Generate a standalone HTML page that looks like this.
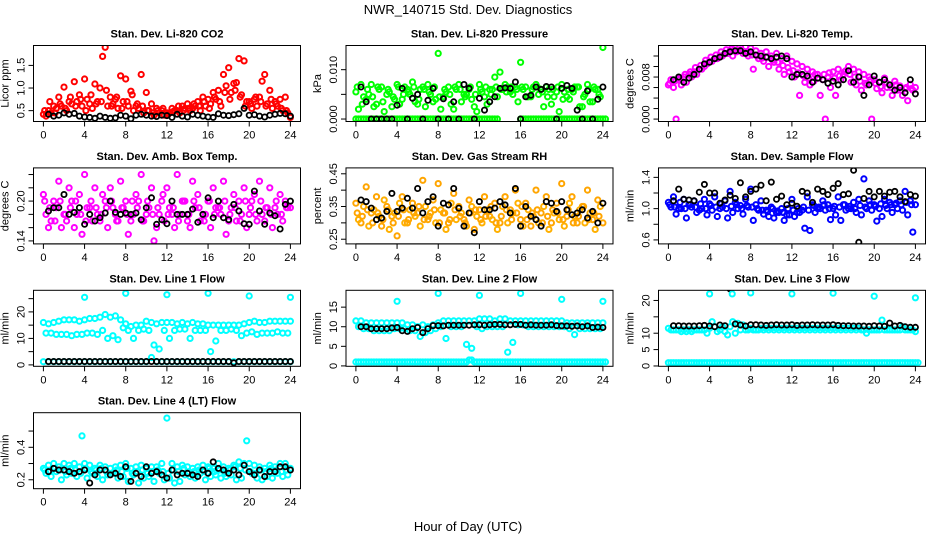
<!DOCTYPE html>
<html><head><meta charset="utf-8"><style>
html,body{margin:0;padding:0;background:#fff;}
svg{display:block;font-family:"Liberation Sans",sans-serif;}
</style></head><body>
<svg id="chart" width="936" height="540" viewBox="0 0 936 540" xmlns="http://www.w3.org/2000/svg">
<rect x="0" y="0" width="936" height="540" fill="#fff"/>
<text x="468" y="14" text-anchor="middle" font-size="13">NWR_140715  Std. Dev. Diagnostics</text>
<text x="468" y="531" text-anchor="middle" font-size="13">Hour of Day (UTC)</text>
</svg>
<script>
const xTicks=[0,4,8,12,16,20,24];
// CO2
const co2A=[0.42,0.5,0.6,0.8,1.02,0.7,1.14,0.85,1.2,0.65,1.09,1.0,1.9,0.8,0.75,1.27,1.2,0.93,0.6,1.3,0.9,0.65,0.55,0.5,0.45,0.55,0.5,0.6,0.65,0.55,0.7,0.8,0.75,0.9,0.95,1.3,1.45,1.1,1.65,1.6,0.7,0.75,0.8,1.3,0.95,0.7,0.75,0.8,0.35];
const co2B=[0.38,0.45,0.55,0.6,0.5,0.65,0.7,0.6,0.75,0.55,0.7,1.7,0.6,0.65,0.55,0.7,0.6,0.5,0.55,0.45,0.5,0.4,0.45,0.4,0.45,0.5,0.45,0.55,0.5,0.6,0.5,0.6,0.65,0.75,0.6,1.05,0.9,1.12,0.85,0.7,0.55,0.6,1.15,0.65,0.55,0.6,0.5,0.45];
const co2C=[0.5,0.7,0.45,0.65,0.55,0.8,0.6,0.75,0.5,0.85,0.65,0.7,0.95,0.6,0.8,0.55,0.7,0.85,0.65,0.6,0.5,0.45,0.5,0.55,0.42,0.48,0.6,0.5,0.55,0.65,0.6,0.7,0.55,0.8,0.7,0.9,0.75,0.95,0.8,0.6,0.65,0.8,0.7,0.6,0.75,0.65,0.55,0.5];
const co2K=[0.42,0.38,0.4,0.45,0.42,0.44,0.38,0.36,0.35,0.33,0.38,0.35,0.33,0.34,0.4,0.38,0.32,0.4,0.42,0.4,0.38,0.37,0.4,0.39,0.35,0.42,0.38,0.36,0.42,0.4,0.38,0.36,0.35,0.43,0.4,0.39,0.41,0.43,0.55,0.4,0.41,0.38,0.36,0.4,0.42,0.44,0.43,0.38];
// Pressure
const presA=[0.0055,0.007,0.004,0.007,0.003,0.0065,0.005,0.0025,0.007,0.004,0.006,0.0075,0.003,0.0065,0.007,0.0035,0.0133,0.0045,0.0065,0.002,0.007,0.005,0.006,0.0025,0.007,0.0045,0.006,0.0085,0.0095,0.007,0.0055,0.0065,0.0115,0.0065,0.0045,0.007,0.006,0.0065,0.003,0.0055,0.007,0.0045,0.006,0.0065,0.0025,0.007,0.0035,0.006,0.0145];
const presB=[0.002,0.0045,0.005,0.0025,0.006,0.0015,0.0055,0.004,0.003,0.0065,0.005,0.0035,0.006,0.0025,0.005,0.004,0.002,0.0055,0.003,0.006,0.0035,0.005,0.004,0.0015,0.0055,0.003,0.006,0.0045,0.006,0.0065,0.005,0.0035,0.006,0.0045,0.0065,0.005,0.0025,0.006,0.0045,0.0015,0.0055,0.004,0.0065,0.0025,0.005,0.0035,0.006,0.0045];
const presC=[0.0065,0.003,0.006,0.0045,0.0065,0.0035,0.006,0.0045,0.0065,0.005,0.0055,0.0065,0.004,0.006,0.0055,0.0065,0.0045,0.006,0.005,0.0065,0.006,0.0045,0.0065,0.005,0.006,0.0065,0.005,0.0065,0.006,0.0055,0.0065,0.006,0.0065,0.0045,0.006,0.0065,0.0055,0.0045,0.006,0.0065,0.004,0.006,0.0055,0.0065,0.0045,0.006,0.0065,0.005];
const presZ=[0,0,0,0,0,0,0,0,0,0,0,0,0,0,0,0,0,0,0,0,0,0,0,0,0,0,0,0,null,null,null,null,0,0,0,0,0,0,0,0,0,0,0,0,0,0,0,0,0];
const presK=[0.0065,0.0035,0,0,0,0,0,0.0028,0.0062,0,0.0042,0.005,0,0.0038,0.0062,0,0.0041,0,0.0035,0,0.007,0.0062,0,0.0042,0.0018,0.0035,0.0045,0.0062,0.0063,0.0062,0.0075,0,0.0045,0.0048,0.0065,0.006,0.0066,0.0065,0,0.0062,0.0068,0.0062,0.0018,0,0.0057,0,0.004,0.0065];
// Temp
const tempA=[0.0065,0.006,0.0075,0.008,0.0085,0.009,0.0095,0.01,0.011,0.0115,0.012,0.0125,0.013,0.0135,0.0132,0.0138,0.0135,0.013,0.0125,0.0128,0.012,0.0125,0.0115,0.012,0.011,0.0105,0.01,0.0095,0.009,0.0085,0.0075,0.008,0.009,0.0095,0.0085,0.01,0.0095,0.009,0.0085,0.008,0.0075,0.007,0.0078,0.0065,0.0072,0.0063,0.0058,0.0066,0.006];
const tempB=[0.0075,0,0.0065,0.007,0.008,0.0085,0.0095,0.0105,0.011,0.0115,0.012,0.0125,0.012,0.013,0.0125,0.012,0.0095,0.0115,0.011,0.01,0.0108,0.0095,0.0085,0.009,0.008,0.0045,0.007,0.0065,0.0085,0.0045,0,0.006,0.0045,0.0075,0.0092,0.007,0.0065,0.0055,0.0065,0,0.0058,0.005,0.006,0.0045,0.0055,0.0045,0.0035,0.0055];
const tempC=[0.0068,0.0072,0.0078,0.0085,0.009,0.0098,0.0102,0.0112,0.0118,0.0122,0.0128,0.0132,0.0134,0.0128,0.0131,0.0126,0.0122,0.012,0.0116,0.0118,0.0112,0.0108,0.0102,0.0098,0.0092,0.0088,0.0082,0.0078,0.0072,0.0078,0.0085,0.0088,0.0078,0.0082,0.009,0.0085,0.008,0.0072,0.0068,0.0075,0.0068,0.0062,0.007,0.006,0.0065,0.0055,0.006,0.0058];
const tempK=[0.0075,0.008,0.007,0.0078,0.0085,0.0095,0.0105,0.0108,0.0115,0.0118,0.0125,0.0128,0.013,0.013,0.0125,0.0128,0.0122,0.012,0.0118,0.0115,0.0118,0.012,0.0115,0.008,0.0085,0.0085,0.0082,0.007,0.0078,0.0075,0.0068,0.0072,0.0065,0.0075,0.0092,0.007,0.008,0.0045,0.0065,0.0082,0.007,0.0075,0.0065,0.0055,0.006,0.005,0.0075,0.0048];
// Box temp
const boxA=[0.21,0.16,0.2,0.23,0.18,0.22,0.16,0.21,0.24,0.19,0.22,0.17,0.2,0.22,0.18,0.23,0.2,0.17,0.21,0.24,0.18,0.22,0.16,0.2,0.22,0.18,0.24,0.2,0.17,0.23,0.21,0.18,0.2,0.22,0.19,0.23,0.17,0.21,0.2,0.22,0.18,0.21,0.23,0.17,0.22,0.19,0.21,0.2,0.19];
const boxB=[0.18,0.17,0.19,0.16,0.17,0.2,0.18,0.15,0.19,0.17,0.18,0.21,0.16,0.19,0.17,0.19,0.15,0.18,0.2,0.17,0.19,0.14,0.18,0.17,0.19,0.16,0.18,0.2,0.16,0.19,0.17,0.18,0.16,0.19,0.18,0.15,0.19,0.17,0.18,0.16,0.2,0.17,0.18,0.19,0.16,0.18,0.17,0.19];
const boxC=[0.2,0.19,0.17,0.2,0.18,0.19,0.2,0.18,0.17,0.2,0.19,0.18,0.19,0.2,0.17,0.19,0.18,0.2,0.19,0.17,0.2,0.18,0.19,0.21,0.18,0.19,0.17,0.2,0.18,0.2,0.19,0.17,0.2,0.18,0.19,0.2,0.18,0.19,0.17,0.2,0.19,0.18,0.2,0.19,0.18,0.2,0.18,0.19];
const boxK=[0.185,0.19,0.19,0.21,0.18,0.183,0.19,0.165,0.18,0.17,0.175,0.182,0.2,0.183,0.18,0.182,0.18,0.182,0.172,0.19,0.205,0.165,0.172,0.166,0.2,0.18,0.18,0.18,0.188,0.168,0.18,0.205,0.175,0.2,0.175,0.172,0.195,0.185,0.166,0.165,0.215,0.185,0.165,0.182,0.178,0.158,0.195,0.2];
// RH
const rhA=[0.36,0.3,0.41,0.33,0.38,0.29,0.35,0.32,0.26,0.38,0.3,0.36,0.33,0.43,0.31,0.37,0.42,0.33,0.3,0.39,0.35,0.31,0.37,0.28,0.34,0.38,0.32,0.36,0.3,0.38,0.34,0.4,0.31,0.36,0.29,0.4,0.33,0.38,0.3,0.36,0.42,0.32,0.38,0.3,0.35,0.4,0.31,0.37,0.3];
const rhB=[0.31,0.35,0.29,0.34,0.32,0.37,0.28,0.33,0.36,0.3,0.34,0.32,0.29,0.35,0.33,0.3,0.34,0.28,0.36,0.31,0.33,0.29,0.35,0.32,0.3,0.34,0.31,0.28,0.35,0.3,0.33,0.36,0.29,0.34,0.32,0.3,0.35,0.28,0.33,0.31,0.29,0.36,0.32,0.34,0.3,0.33,0.28,0.35];
const rhC=[0.33,0.32,0.34,0.3,0.33,0.31,0.34,0.3,0.32,0.34,0.31,0.33,0.35,0.31,0.32,0.34,0.3,0.33,0.31,0.34,0.32,0.3,0.33,0.34,0.31,0.32,0.35,0.3,0.32,0.34,0.31,0.33,0.35,0.31,0.33,0.34,0.3,0.32,0.34,0.33,0.31,0.34,0.3,0.32,0.35,0.31,0.33,0.32];
const rhK=[0.37,0.365,0.345,0.31,0.315,0.335,0.39,0.335,0.345,0.375,0.345,0.405,0.33,0.365,0.38,0.29,0.36,0.355,0.405,0.345,0.29,0.33,0.27,0.365,0.34,0.34,0.345,0.365,0.355,0.33,0.405,0.29,0.35,0.32,0.31,0.29,0.365,0.36,0.335,0.365,0.34,0.325,0.33,0.34,0.315,0.335,0.3,0.36];
// Sample flow
const flowA=[1.08,1.15,1.0,1.12,1.05,1.1,0.98,1.12,1.06,1.15,1.0,1.1,1.22,1.08,1.04,1.12,1.25,1.05,1.1,0.98,1.02,0.95,1.0,0.92,1.12,0.95,0.98,1.15,1.05,1.0,1.1,1.05,1.0,1.15,1.05,1.0,1.08,1.12,1.38,1.1,1.05,1.0,1.12,1.08,1.05,1.1,1.22,1.1,1.05];
const flowB=[1.02,0.93,1.0,0.88,1.02,0.95,1.0,0.92,0.98,0.9,1.02,0.88,0.95,1.0,0.93,1.02,0.85,0.98,0.93,0.9,0.88,0.95,0.85,0.92,0.9,0.95,0.75,0.72,0.95,1.0,0.98,0.86,0.92,0.85,0.98,1.0,0.95,0.92,1.0,0.98,0.84,0.9,1.0,0.95,1.0,0.98,0.92,0.7];
const flowC=[1.05,1.02,1.08,1.0,1.05,1.02,1.06,1.0,1.04,1.02,1.06,1.0,1.03,1.05,1.0,1.04,1.02,1.0,0.98,0.96,1.0,0.97,0.95,1.0,0.98,1.0,1.02,0.98,1.04,1.02,1.05,1.0,1.03,1.02,1.05,1.03,1.0,1.04,1.02,1.05,1.03,1.06,1.04,1.05,1.07,1.05,1.08,1.05];
const flowK=[1.1,1.25,1.12,1.11,1.1,1.21,1.31,1.2,1.2,1.07,1.11,1.17,1.13,1.33,1.15,1.22,1.25,1.3,1.1,1.34,1.12,1.16,1.05,1.07,1.03,1.22,1.2,1.08,1.25,1.22,1.18,1.26,1.32,1.18,1.19,1.49,0.57,1.13,1.22,1.15,1.22,1.16,1.21,1.22,1.15,1.09,1.18,1.16];
// Line 1
const l1U=[16,15.5,16,16.5,17,17,17,16.5,17,17.5,17.5,18,19,18,18.5,17,15.5,14.5,15,15,16.5,16,15.5,16,16,16,15.5,16,15.5,16,15.5,15.5,15,15,15,15,15,15,15,15.5,16,16.5,16,16,16.5,16.5,16.5,16.5,16.5];
const l1L=[12,12,11.5,11.5,11.5,11,11.5,11.5,12,12,11.5,13,10,11,9.5,14,13,10,13,13.5,13,7.5,6,13,10,13,13.5,13.5,10,13,13,13,5,9,13,13,13.5,13,11,12,12.5,11.5,12,12,12,12.5,12,12];
const l1Z=[1.2,1.2,1.2,1.2,1.2,1.2,1.2,1.2,1.2,1.2,1.2,1.2,1.2,1.2,1.2,1.2,1.2,1.2,1.2,1.2,1.2,2.8,1.2,1.2,1.2,1.2,1.2,1.2,1.2,1.2,1.2,1.2,1.2,1.2,1.2,1.2,1.2,1.2,1.2,1.2,1.2,1.2,1.2,1.2,1.2,1.2,1.2,1.2,1.2];
const l1K=[1.3,1.3,1.3,1.3,1.3,1.3,1.3,1.3,1.3,1.3,1.3,1.3,1.3,1.3,1.3,1.3,1.3,1.3,1.3,1.3,1.3,1.3,1.3,1.3,1.3,1.3,1.3,1.3,1.3,1.3,1.3,1.3,1.3,1.3,1.3,1.3,0.8,1.3,1.3,1.3,1.3,1.3,1.3,1.3,1.3,1.3,1.3,1.3];
const l1OutH=[4,8,12,16,20,24];
const l1OutV=[25.5,27,26.5,27,26,25.5];
// Line 2
const l2U=[11.5,11.5,11,11,11,11,11,11,11,11,10.5,10.5,10,10.5,10,10.5,11,11.5,11.5,11.5,11.5,11.5,11.5,11.5,12,12,12,11.5,12,12,11.5,11.5,11.5,11.5,11.5,11.5,11.5,11.5,11.5,11.5,11.5,11,11,11,11,11,11,11,11];
const l2L=[10,9.5,9.5,9,9,9,9,9.5,9.5,9.5,9,9,7.5,8.5,9,9.5,10,7,10,10,10,5.5,4.5,10,9.5,10,10,10,10,3.5,6,10.5,10.5,10,10,10,10,10,10,10,10,9.5,8,9.5,9.5,9.5,9.5,9.5];
const l2Z=[1,1,1,1,1,1,1,1,1,1,1,1,1,1,1,1,1,1,1,1,1,1,1.5,1,1,1,1,1,1,1,1,1,1,1,1,1,1,1,1,1,1,1,1,1,1,1,1,1,1];
const l2K=[10,10,9.5,9.5,9.5,9.5,9.7,9.8,9,8.8,9.5,9.8,8.5,9.5,10.3,10.3,10.2,10.4,10.4,10.4,10.4,10.4,10.5,10.5,10.4,10.5,10.6,10.6,10.5,10.5,10.6,10.6,10.4,10.5,10.4,10.4,10.4,10.5,10.3,10.2,10.2,10.1,10.2,10,10.2,9.8,9.9,9.8];
const l2OutH=[4,8,12,16,20,24];
const l2OutV=[16.5,18.5,18,18.5,17,16.5];
// Line 3
const l3A=[11.5,11,11,11,11,11,11,11,11.5,12,11,10.5,12,10,11,11,11.5,11,11.5,11.5,11.5,11.5,11.5,11.5,11.5,11.5,11.5,11.5,11.5,11.5,11.5,11.5,11.5,11.5,11.5,11.5,11.5,11.5,11,11,11,11,11,11,11,11,11,11,10.5];
const l3B=[11,11,10.5,10.5,10.5,11,11,10,13.5,10.5,12,9.5,13.5,13,12.5,11,11,11,11,11,11,11,11,11,11,11,11,11,11,11,11,11,11,11,11,11,11,11,10,11,11,14,11,11,11,12,11,11];
const l3Z=[1,1,1,1,1,1,1,1,1,1,1,1,1,1,1,1,1,1,1,1,1,1,1,1,1,1,1,1,1,1,1,1,1,1,1,1,1,1,1,1,1,1,1,1,1,1,1,1,1];
const l3K=[12.3,12.3,12.2,12.2,12.2,12.3,12.4,12.2,12,12.5,12.3,23.5,12.8,12.5,12.2,12.6,12.6,12.5,12.4,12.5,12.6,12.5,12.5,12.6,12.4,12.5,12.5,12.6,12.5,12.5,12.5,12.6,12.4,12.3,12.3,12.2,12.2,12.2,12.1,12.3,12.2,12.1,13.1,12.2,12.4,12,11.8,11.8];
const l3OutH=[4,6.2,8,12,16,20,24];
const l3OutV=[22,22,22.3,22,22.2,21.3,20.8];
// Line 4
const l4A=[0.27,0.29,0.3,0.28,0.3,0.29,0.3,0.28,0.3,0.29,0.27,0.29,0.28,0.27,0.28,0.29,0.3,0.27,0.28,0.29,0.27,0.28,0.28,0.3,0.58,0.3,0.28,0.29,0.28,0.27,0.28,0.29,0.28,0.27,0.3,0.28,0.27,0.29,0.31,0.3,0.3,0.29,0.28,0.27,0.29,0.28,0.3,0.3,0.27];
const l4B=[0.24,0.22,0.25,0.2,0.23,0.24,0.22,0.47,0.21,0.24,0.22,0.2,0.23,0.24,0.21,0.22,0.19,0.23,0.18,0.21,0.22,0.19,0.24,0.2,0.21,0.18,0.19,0.23,0.22,0.21,0.24,0.2,0.22,0.23,0.21,0.22,0.23,0.2,0.21,0.44,0.24,0.21,0.2,0.22,0.21,0.24,0.22,0.23];
const l4C=[0.26,0.25,0.27,0.26,0.25,0.27,0.26,0.24,0.27,0.25,0.26,0.27,0.25,0.24,0.26,0.25,0.27,0.24,0.25,0.26,0.24,0.25,0.26,0.25,0.24,0.26,0.25,0.27,0.24,0.25,0.26,0.25,0.27,0.25,0.26,0.24,0.26,0.28,0.27,0.26,0.25,0.24,0.26,0.25,0.27,0.26,0.25,0.26];
const l4K=[0.25,0.27,0.26,0.26,0.25,0.24,0.25,0.26,0.18,0.23,0.26,0.26,0.23,0.24,0.22,0.28,0.19,0.24,0.22,0.28,0.24,0.25,0.23,0.21,0.26,0.23,0.24,0.24,0.23,0.22,0.26,0.24,0.31,0.27,0.26,0.24,0.26,0.23,0.29,0.25,0.23,0.26,0.22,0.25,0.25,0.28,0.28,0.26];

const NS='http://www.w3.org/2000/svg';
const svg=document.getElementById('chart');
function mk(tag,attrs,parent){const e=document.createElementNS(NS,tag);for(const k in attrs)e.setAttribute(k,attrs[k]);(parent||svg).appendChild(e);return e;}

// series kinds: 'A' h=i*0.5, 'B' h=i*0.5+0.25, 'C' h=i*0.5+0.125, 'K' h=(i+1)*0.5
const panels=[
 {name:'co2',title:'Stan. Dev. Li-820 CO2',yl:'Licor ppm',lim:[0.26,1.94],ticks:[0.5,1.0,1.5],labels:['0.5','1.0','1.5'],
  series:[[co2A,'A','#ff0000'],[co2B,'B','#ff0000'],[co2C,'C','#ff0000'],[co2K,'K','#000']]},
 {name:'pressure',title:'Stan. Dev. Li-820 Pressure',yl:'kPa',lim:[-0.0005,0.0149],ticks:[0,0.005,0.01],labels:['0.000','','0.010'],
  series:[[presZ,'A','#00ff00'],[presZ,'B','#00ff00'],[presA,'A','#00ff00'],[presB,'B','#00ff00'],[presC,'C','#00ff00'],[presK,'K','#000']]},
 {name:'temp',title:'Stan. Dev. Li-820 Temp.',yl:'degrees C',lim:[-0.00046,0.014],ticks:[0,0.002,0.004,0.006,0.008,0.01,0.012],labels:['0.000','','','','0.008','',''],
  series:[[tempA,'A','#ff00ff'],[tempB,'B','#ff00ff'],[tempC,'C','#ff00ff'],[tempK,'K','#000']]},
 {name:'box-temp',title:'Stan. Dev. Amb. Box Temp.',yl:'degrees C',lim:[0.1355,0.25],ticks:[0.14,0.16,0.18,0.2,0.22,0.24],labels:['0.14','','','0.20','',''],
  series:[[boxA,'A','#ff00ff'],[boxB,'B','#ff00ff'],[boxC,'C','#ff00ff'],[boxK,'K','#000']]},
 {name:'rh',title:'Stan. Dev. Gas Stream RH',yl:'percent',lim:[0.2357,0.468],ticks:[0.25,0.3,0.35,0.4,0.45],labels:['0.25','','0.35','','0.45'],
  series:[[rhA,'A','#ffa500'],[rhB,'B','#ffb000'],[rhC,'C','#ffa500'],[rhK,'K','#000']]},
 {name:'sample-flow',title:'Stan. Dev. Sample Flow',yl:'ml/min',lim:[0.549,1.521],ticks:[0.6,0.8,1.0,1.2,1.4],labels:['0.6','','1.0','','1.4'],
  series:[[flowA,'A','#0000ff'],[flowB,'B','#0000ff'],[flowC,'C','#0000ff'],[flowK,'K','#000']]},
 {name:'line1-flow',title:'Stan. Dev. Line 1 Flow',yl:'ml/min',lim:[-0.53,28.15],ticks:[0,5,10,15,20,25],labels:['0','','10','','20',''],
  series:[[l1U,'A','#00ffff'],[l1L,'B','#00ffff'],[l1Z,'A','#00ffff'],[l1K,'K','#000']],out:[l1OutH,l1OutV]},
 {name:'line2-flow',title:'Stan. Dev. Line 2 Flow',yl:'ml/min',lim:[-0.1,19.3],ticks:[0,5,10,15],labels:['0','5','10','15'],
  series:[[l2U,'A','#00ffff'],[l2L,'B','#00ffff'],[l2Z,'A','#00ffff'],[l2Z,'B','#00ffff'],[l2K,'K','#000']],out:[l2OutH,l2OutV]},
 {name:'line3-flow',title:'Stan. Dev. Line 3 Flow',yl:'ml/min',lim:[-0.1,23.1],ticks:[0,5,10,15,20],labels:['0','5','10','','20'],
  series:[[l3A,'A','#00ffff'],[l3B,'B','#00ffff'],[l3Z,'A','#00ffff'],[l3Z,'B','#00ffff'],[l3K,'K','#000']],out:[l3OutH,l3OutV]},
 {name:'line4-flow',title:'Stan. Dev. Line 4 (LT) Flow',yl:'ml/min',lim:[0.145,0.613],ticks:[0.2,0.3,0.4,0.5],labels:['0.2','','0.4',''],
  series:[[l4A,'A','#00ffff'],[l4B,'B','#00ffff'],[l4C,'C','#00ffff'],[l4K,'K','#000']]}
];

panels.forEach((p,idx)=>{
  const col=idx%3,row=Math.floor(idx/3);
  const left=33.5+col*312.5, W=267, top=45.5+row*122.4, H=76;
  const x0=left+9.9, xs=247/24;
  const X=h=>x0+h*xs;
  const Y=v=>top+H-(v-p.lim[0])/(p.lim[1]-p.lim[0])*H;
  const g=mk('g',{});
  
  
  const t=mk('text',{x:left+W/2,y:top-8,'text-anchor':'middle','font-size':'11','font-weight':'bold'},g);
  t.textContent=p.title;
  
  
  const clip='clip'+idx;
  const cp=mk('clipPath',{id:clip},g);mk('rect',{x:left,y:top,width:W,height:H},cp);
  const pts=mk('g',{'clip-path':'url(#'+clip+')',fill:'none'},g);
  
  
  p.series.forEach(([arr,kind,color])=>{
    arr.forEach((v,i)=>{
      if(v===null)return;
      const h=kind==='A'?i*0.5:kind==='B'?i*0.5+0.25:kind==='C'?i*0.5+0.125:(i+1)*0.5;
      const c=mk('circle',{cx:X(h).toFixed(1),cy:Y(v).toFixed(1),r:'2.6',stroke:color,'stroke-width':color==='#000'?'1.8':'2'},pts);
      
      
    });
  });
  if(p.out){p.out[0].forEach((h,i)=>{
    const c=mk('circle',{cx:X(h).toFixed(1),cy:Y(p.out[1][i]).toFixed(1),r:'2.6',stroke:'#00ffff','stroke-width':'2'},pts);
    
    
  });}
  const box=mk('rect',{x:left,y:top,width:W,height:H,fill:'none',stroke:'#000','stroke-width':'1'},g);
  
  
  const xa=mk('g',{},g);
  
  
  mk('line',{x1:X(0),x2:X(24),y1:top+H,y2:top+H,stroke:'#000'},xa);
  xTicks.forEach(h=>{
    mk('line',{x1:X(h),x2:X(h),y1:top+H,y2:top+H+5,stroke:'#000'},xa);
    const tl=mk('text',{x:X(h),y:top+H+17,'text-anchor':'middle','font-size':'11'},xa);
    tl.textContent=h;
  });
  const ya=mk('g',{},g);
  
  
  const yt=p.ticks;
  mk('line',{x1:left,x2:left,y1:Y(yt[0]),y2:Y(yt[yt.length-1]),stroke:'#000'},ya);
  yt.forEach((v,i)=>{
    const y=Y(v);
    mk('line',{x1:left-5,x2:left,y1:y,y2:y,stroke:'#000'},ya);
    if(p.labels[i]){
      const tl=mk('text',{x:left-9,y:y,'text-anchor':'middle','font-size':'11',transform:'rotate(-90 '+(left-9)+' '+y+')'},ya);
      tl.textContent=p.labels[i];
    }
  });
  const ytl=mk('text',{x:left-25,y:top+H/2,'text-anchor':'middle','font-size':'11',transform:'rotate(-90 '+(left-25)+' '+(top+H/2)+')'},ya);
  ytl.textContent=p.yl;
  
  
});
</script>
</body></html>
